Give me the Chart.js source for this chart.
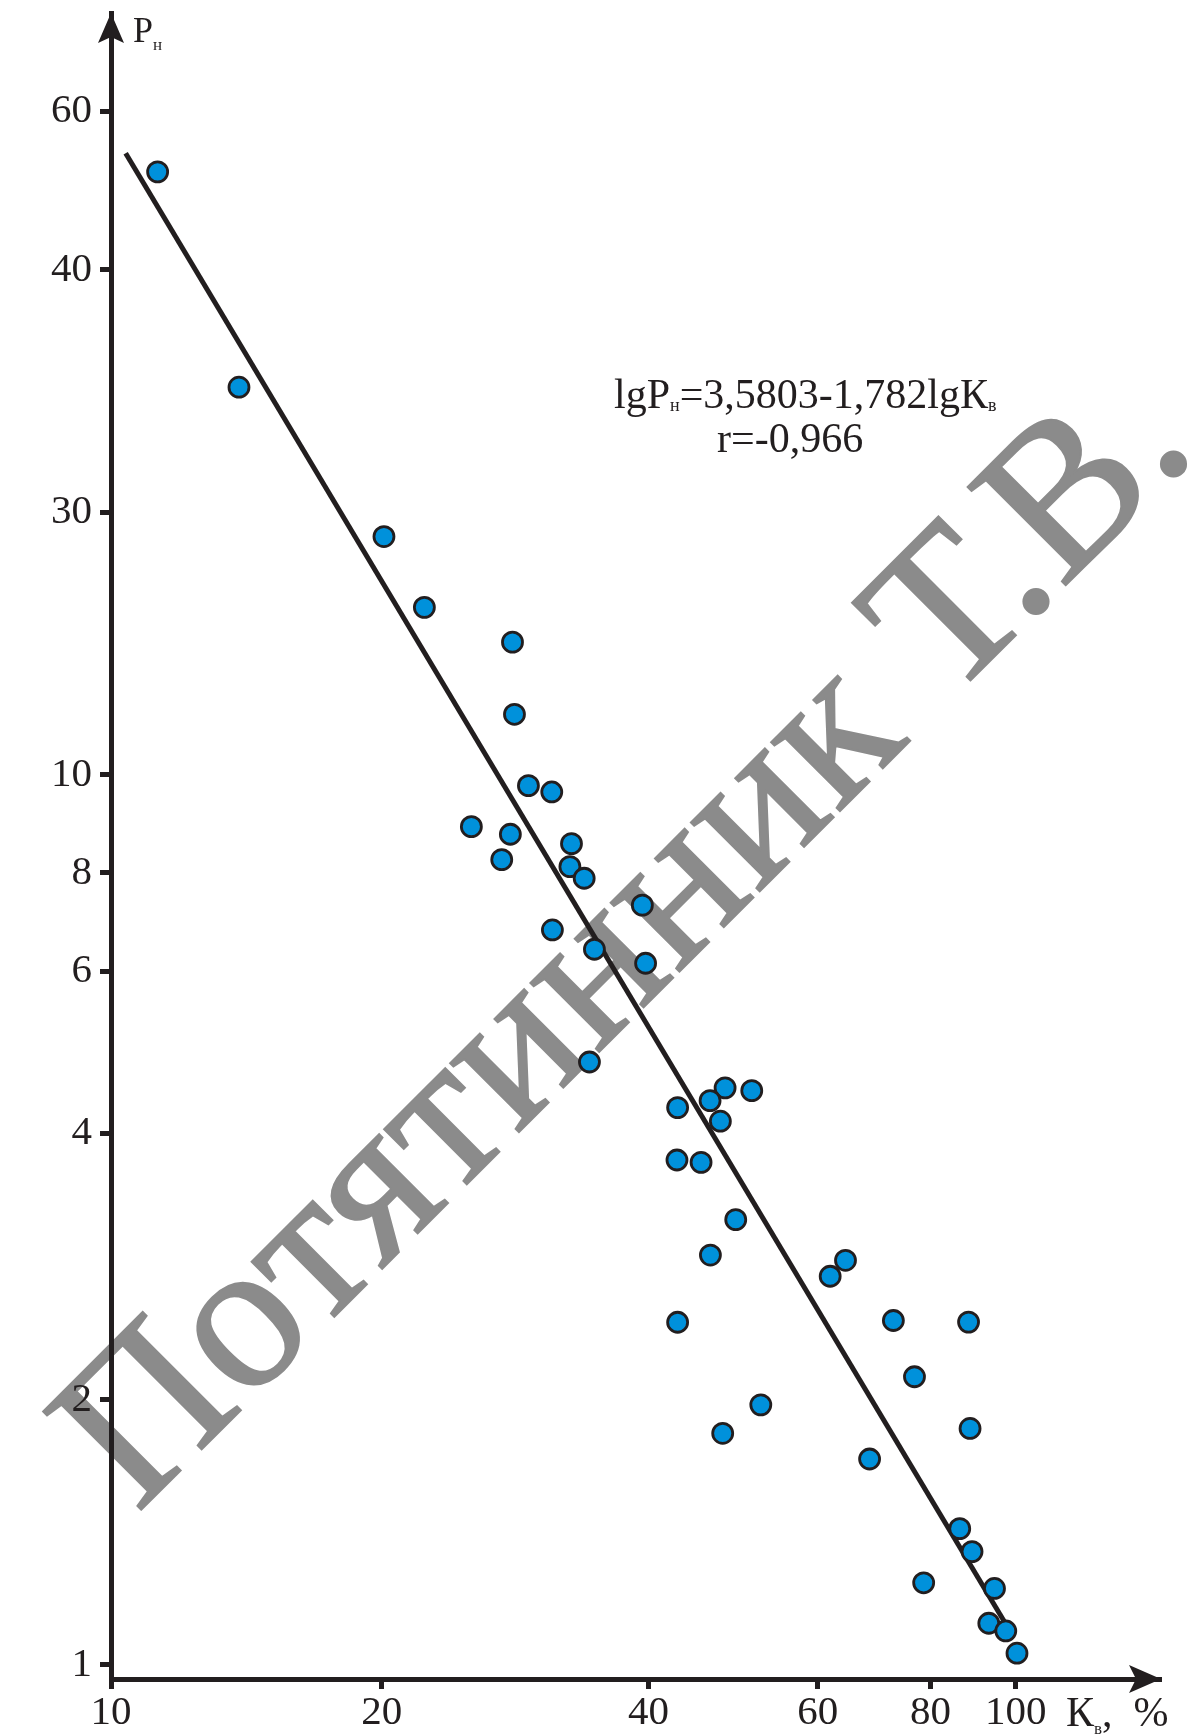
<!DOCTYPE html>
<html lang="ru">

<head>
    <meta charset="UTF-8">
    <title>Pн от Кв</title>
    <style>
        html, body { margin: 0; padding: 0; background: #fff; }
        canvas { display: block; }
    </style>
</head>

<body>
    <canvas id="myCanvas" width="1189" height="1735"></canvas>

    <script src="https://cdn.jsdelivr.net/npm/chart.js@4.4.1/dist/chart.umd.min.js"></script>
    <script>
        // Кв, % and Pн
        const kv = [11.26, 13.85, 20.03, 22.20, 27.78, 27.92, 28.93, 30.70, 25.02, 27.63,
            32.28, 27.03, 32.15, 33.34, 38.66, 30.75, 34.22, 38.98, 33.79, 47.72,
            51.07, 45.93, 42.29, 47.15, 42.22, 44.89, 49.03, 45.97, 64.83, 62.35,
            42.29, 73.23, 88.67, 77.27, 52.26, 47.43, 89.01, 68.93, 86.70, 89.46,
            79.10, 94.72, 93.36, 97.48, 100.3];
        const pn = [47.6, 27.27, 18.53, 15.43, 14.10, 11.70, 9.727, 9.570, 8.748, 8.578,
            8.372, 8.032, 7.888, 7.655, 7.140, 6.697, 6.371, 6.144, 4.759, 4.450,
            4.419, 4.306, 4.229, 4.083, 3.693, 3.671, 3.165, 2.888, 2.849, 2.734,
            2.427, 2.438, 2.428, 2.108, 1.960, 1.821, 1.844, 1.704, 1.423, 1.341,
            1.237, 1.219, 1.114, 1.092, 1.031];

        // regression line lgPн = 3,5803 - 1,782 lgКв, as drawn
        const lineKv = [10.38, 97.48];
        const linePn = [49.95, 1.112];

        // where the ticks sit on the log axes and what is printed there
        const xTickValues = [10, 19.92, 39.26, 60.4, 80.5, 100];
        const xTickLabels = ['10', '20', '40', '60', '80', '100'];
        const yTickValues = [1, 1.985, 3.96, 6.02, 7.76, 10, 19.71, 36.93, 55.64];
        const yTickLabels = ['1', '2', '4', '6', '8', '10', '30', '40', '60'];

        const ink = '#221e1f';
        const serif = '"Liberation Serif", "Times New Roman", serif';

        function richText(ctx, parts, x, y) {
            // parts: [text, font size, baseline shift]
            let cx = x;
            parts.forEach(p => {
                ctx.font = p[1] + 'px ' + serif;
                ctx.fillText(p[0], cx, y + p[2]);
                cx += ctx.measureText(p[0]).width;
            });
        }

        const decorations = {
            id: 'decorations',
            beforeDraw(chart) {
                const ctx = chart.ctx;
                ctx.save();
                ctx.translate(137, 1514);
                ctx.rotate(-Math.PI / 4);
                ctx.font = '212px ' + serif;
                ctx.fillStyle = '#8b8b8b';
                ctx.strokeStyle = '#8b8b8b';
                ctx.lineWidth = 2;
                ctx.textBaseline = 'alphabetic';
                ctx.fillText('Потятинник Т.В.', 0, 0);
                ctx.strokeText('Потятинник Т.В.', 0, 0);
                ctx.restore();
            },
            afterDraw(chart) {
                const ctx = chart.ctx;
                const a = chart.chartArea;
                ctx.save();
                ctx.fillStyle = ink;

                // arrow heads
                ctx.beginPath();
                ctx.moveTo(a.left, a.top);
                ctx.lineTo(a.left + 13, a.top + 30);
                ctx.lineTo(a.left, a.top + 24);
                ctx.lineTo(a.left - 13, a.top + 30);
                ctx.closePath();
                ctx.fill();

                ctx.beginPath();
                ctx.moveTo(a.right, a.bottom);
                ctx.lineTo(a.right - 32, a.bottom - 14);
                ctx.lineTo(a.right - 25, a.bottom);
                ctx.lineTo(a.right - 32, a.bottom + 14);
                ctx.closePath();
                ctx.fill();

                ctx.textBaseline = 'alphabetic';
                ctx.textAlign = 'left';
                richText(ctx, [['P', 36, 0], ['н', 17, 8]], a.left + 22, 42);
                richText(ctx, [['К', 42, 0], ['в', 17, 8], [',  %', 42, 0]], 1066, 1726);

                richText(ctx, [['lgP', 42, 0], ['н', 18, 3], ['=3,5803-1,782lgК', 42, 0], ['в', 18, 3]], 614, 408);
                richText(ctx, [['r=-0,966', 42, 0]], 717, 452);
                ctx.restore();
            }
        };

        const ctx = document.getElementById('myCanvas').getContext('2d');
        const chart = new Chart(ctx, {
            type: 'scatter',
            data: {
                datasets: [{
                    data: kv.map((k, i) => ({ x: k, y: pn[i] })),
                    backgroundColor: '#0091db',
                    borderColor: ink,
                    borderWidth: 2.8,
                    pointRadius: 10,
                    pointHoverRadius: 10
                }, {
                    data: lineKv.map((k, i) => ({ x: k, y: linePn[i] })),
                    showLine: true,
                    borderColor: ink,
                    borderWidth: 5,
                    pointRadius: 0
                }]
            },
            options: {
                responsive: false,
                animation: false,
                devicePixelRatio: 1,
                layout: { padding: { top: 13, right: 28, left: 0, bottom: 0 } },
                plugins: { legend: { display: false }, tooltip: { enabled: false } },
                scales: {
                    x: {
                        type: 'logarithmic',
                        min: 10,
                        max: 144.7,
                        afterBuildTicks: s => { s.ticks = xTickValues.map(v => ({ value: v })); },
                        afterFit: s => { s.height = 56; s.paddingLeft = 0; s.paddingRight = 0; },
                        ticks: {
                            callback: (v, i) => xTickLabels[i],
                            autoSkip: false,
                            maxRotation: 0,
                            padding: 0,
                            color: ink,
                            font: { family: serif, size: 41 }
                        },
                        grid: { drawOnChartArea: false, tickLength: 10, tickWidth: 5, tickColor: ink },
                        border: { color: ink, width: 5 }
                    },
                    y: {
                        type: 'logarithmic',
                        min: 0.9644,
                        max: 71.8,
                        afterBuildTicks: s => { s.ticks = yTickValues.map(v => ({ value: v })); },
                        afterFit: s => { s.width = 111; s.paddingTop = 0; s.paddingBottom = 0; },
                        ticks: {
                            callback: (v, i) => yTickLabels[i],
                            autoSkip: false,
                            padding: 8,
                            color: ink,
                            font: { family: serif, size: 41 }
                        },
                        grid: { drawOnChartArea: false, tickLength: 11, tickWidth: 5, tickColor: ink },
                        border: { color: ink, width: 5 }
                    }
                }
            },
            plugins: [decorations]
        });
    </script>
</body>

</html>
